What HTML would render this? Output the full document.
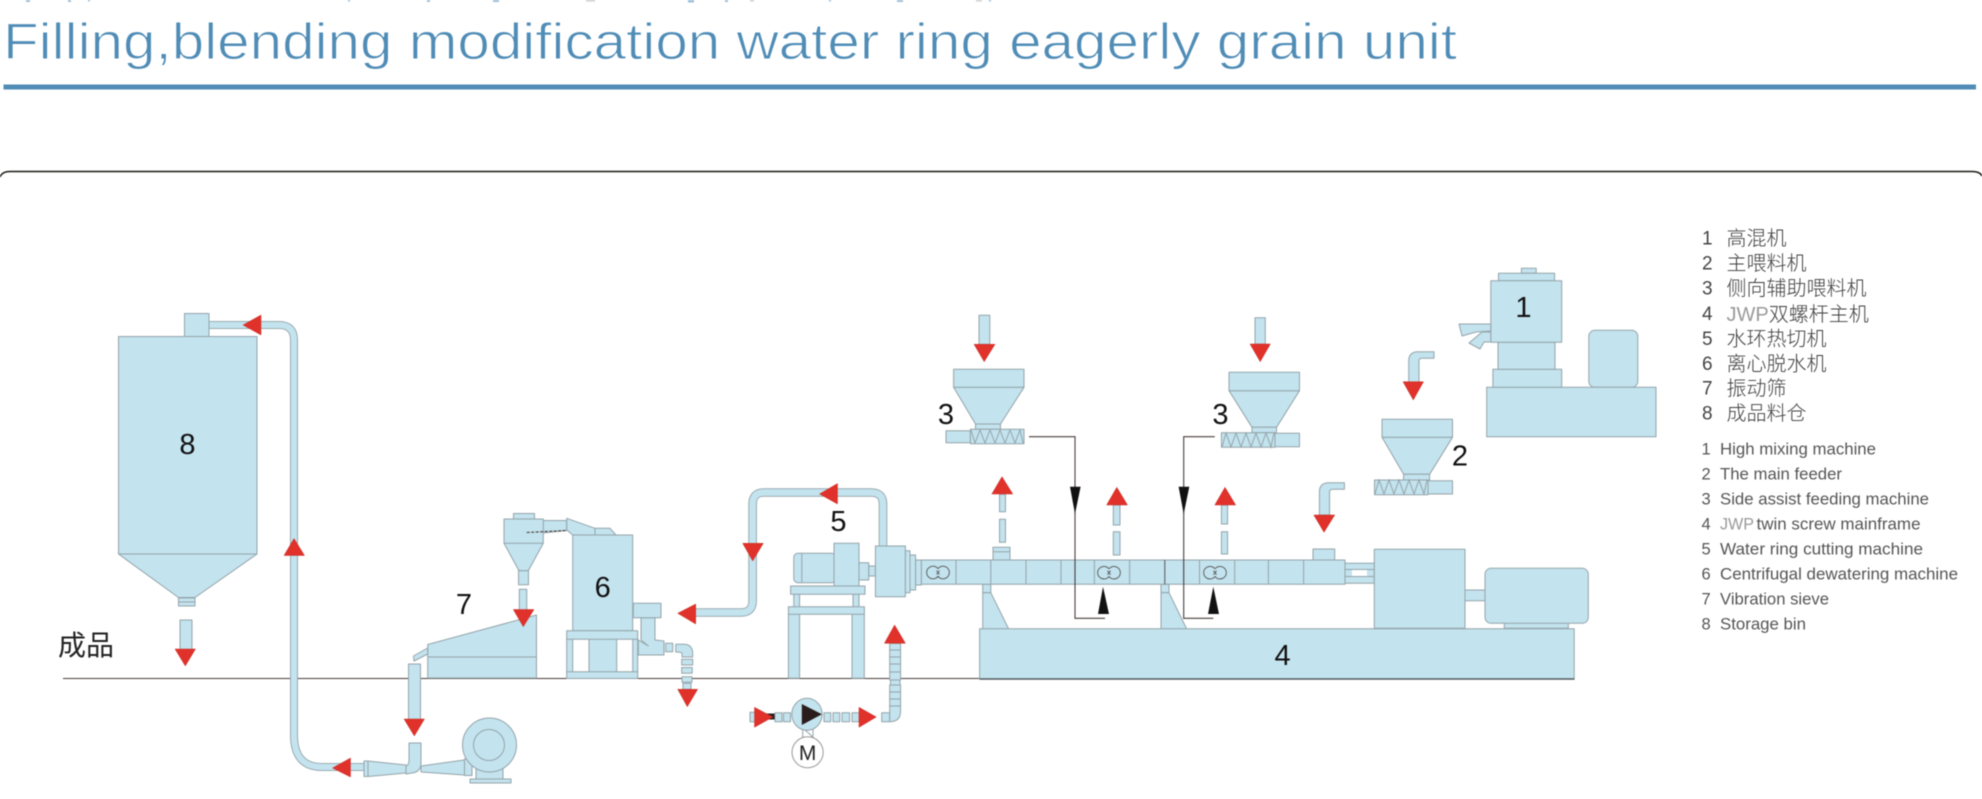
<!DOCTYPE html>
<html><head><meta charset="utf-8"><style>
html,body{margin:0;padding:0;background:#fff}
svg{display:block;filter:blur(.45px)}
.m{fill:#c3e3ee;stroke:#94a4aa;stroke-width:1;stroke-linejoin:round}
.l{fill:none;stroke:#94a4aa;stroke-width:1}
.r{fill:#e0312a;stroke:#c8332c;stroke-width:.5}
.k{fill:#111;stroke:none}
.b{fill:none;stroke:#4a3d3d;stroke-width:1.1}
.d{font-family:"Liberation Sans",sans-serif;font-size:29px;fill:#111;text-anchor:middle}
.cn{font-family:"Liberation Sans","Noto Sans CJK SC",sans-serif;font-size:20px;fill:#3c3c3c;font-weight:300}
.en{font-family:"Liberation Sans",sans-serif;font-size:17px;fill:#555}
.num{font-family:"Liberation Sans",sans-serif;font-size:19px;fill:#444}
.num2{font-family:"Liberation Sans",sans-serif;font-size:16.5px;fill:#555}
.j{fill:#9a9a9a}
</style></head><body>
<svg width="1982" height="799" viewBox="0 0 1982 799" xmlns="http://www.w3.org/2000/svg">
<!-- top sliver of cropped text -->
<g fill="#5f93bd" opacity=".6">
<rect x="26" y="0" width="4" height="2"/><rect x="68" y="0" width="3" height="2"/><rect x="88" y="0" width="2" height="1.5"/>
<rect x="348" y="0" width="2" height="1.5"/><rect x="427" y="0" width="3" height="2"/><rect x="493" y="0" width="6" height="2"/>
<rect x="586" y="0" width="9" height="1.5" fill="#aaa"/><rect x="688" y="0" width="6" height="2.5"/><rect x="725" y="0" width="3" height="2"/>
<rect x="750" y="0" width="4" height="1.5" fill="#aaa"/><rect x="829" y="0" width="2" height="1.5"/><rect x="897" y="0" width="6" height="2"/>
<rect x="976" y="0" width="6" height="1.5" fill="#aaa"/><rect x="989" y="0" width="2" height="1.5"/>
</g>
<!-- title -->
<text x="3" y="59" font-family="'Liberation Sans',sans-serif" font-size="51" fill="#4f8cb6" stroke="#fff" stroke-width="1" textLength="1454" lengthAdjust="spacingAndGlyphs">Filling,blending modification water ring eagerly grain unit</text>
<rect x="3.5" y="84.5" width="1972.5" height="5" fill="#4f8cb6"/>
<path d="M0,177 Q2,171.5 10,171.5 H1972 Q1980,171.5 1982,176" fill="none" stroke="#1a1a14" stroke-width="1.6"/>

<!-- ground -->
<line x1="63" y1="678.5" x2="980" y2="678.5" stroke="#4a3d3d" stroke-width="1.1"/>
<text x="58" y="655" font-family="'Liberation Sans','Noto Sans CJK SC',sans-serif" font-size="28" fill="#222">成品</text>

<!-- transfer pipe to silo -->
<path d="M209,325 H279 Q294,325 294,340 V735 Q294,767 322,767 H364" fill="none" stroke="#94a4aa" stroke-width="8"/>
<path d="M209,325 H279 Q294,325 294,340 V735 Q294,767 322,767 H364" fill="none" stroke="#c3e3ee" stroke-width="6.2"/>

<!-- silo 8 -->
<rect class="m" x="184.5" y="313.5" width="24.5" height="23"/>
<path class="m" d="M118.5,336.5 H257 V554 L195,597.5 H178.5 L118.5,554 Z"/>
<line class="l" x1="118.5" y1="554" x2="257" y2="554"/>
<rect class="m" x="178.5" y="598" width="16.5" height="8"/>
<line class="l" x1="178.5" y1="602" x2="195" y2="602"/>
<text class="d" x="187.5" y="454">8</text>
<rect class="m" x="180" y="620" width="12" height="30"/>
<polygon class="r" points="175,649 195.5,649 185.3,666"/>
<polygon class="r" points="243,325 261,315 261,335"/>
<polygon class="r" points="294,538.5 284,555.5 304.5,555.5"/>
<polygon class="r" points="332.5,768 350.5,758 350.5,777"/>

<!-- blower -->
<path class="m" d="M364,761 L368,761 L406,765 V773 L368,776.5 L364,776.5 Z"/>
<line class="l" x1="368" y1="761" x2="368" y2="776.5"/>
<path class="m" d="M421,766 L464,760 H467 V775 H464 L421,772 Z"/>
<path class="m" d="M409,743 H421 V763 Q421,772 412,773 L406,774 V766 Q409,765 409,760 Z"/>
<rect class="m" x="464.5" y="759" width="7.5" height="16.5"/>
<path class="m" d="M476,765 H503 V779 H476 Z"/>
<rect class="m" x="470" y="779" width="41" height="4"/>
<circle class="m" cx="489.5" cy="745" r="27"/>
<circle class="m" cx="489" cy="745" r="15.5"/>

<!-- discharge into blower -->
<rect class="m" x="408.5" y="664" width="12" height="56"/>
<polygon class="r" points="404,719 424.5,719 414.3,736"/>

<!-- sieve 7 -->
<path class="m" d="M427.7,644.5 L536.5,615 V678 H427.7 Z"/>
<line class="l" x1="427.7" y1="657" x2="536.5" y2="657"/>
<polygon class="m" points="413.5,656 427.7,648 427.7,654 414,661"/>
<text class="d" x="464" y="614">7</text>

<!-- cyclone -->
<rect class="m" x="513.5" y="513.5" width="21" height="5.5"/>
<path class="m" d="M543,520.5 H566.7 V530.5 L543,533 Z"/>
<path class="m" d="M504,519 H543.3 V543.3 L528.3,570.7 H519 L504,543.3 Z"/>
<line class="l" x1="504" y1="543.3" x2="543.3" y2="543.3"/>
<path class="b" d="M526.7,532.5 L566.7,530.5" stroke-dasharray="3 1.5"/>
<rect class="m" x="518.5" y="570.7" width="10" height="14"/>
<rect class="m" x="519.3" y="589.3" width="7.4" height="21"/>
<polygon class="r" points="513.3,609.5 534,609.5 523.3,626.7"/>

<!-- dewaterer 6 -->
<polygon class="m" points="595,528.3 610,528.3 616,535 595,535"/>
<polygon class="m" points="566.7,518.3 595,528.3 595,535 572.7,535 566.7,530"/>
<rect class="m" x="572.7" y="535" width="60" height="95.7"/>
<text class="d" x="602.7" y="597">6</text>
<rect class="m" x="566.7" y="639" width="6" height="33"/>
<rect class="m" x="632.7" y="639" width="5" height="33"/>
<rect class="m" x="589" y="639" width="27.7" height="33"/>
<rect class="m" x="566.7" y="630.7" width="71" height="8.6"/>
<rect class="m" x="566.7" y="671.7" width="71" height="6.8"/>
<path class="m" d="M641,617.7 H655 V640 L664,641 V655 H638.3 V640 L648.3,646 L641,640 Z"/>
<rect class="m" x="633.3" y="603.3" width="27.7" height="14.4"/>
<rect class="m" x="665.7" y="643.3" width="7" height="8.4"/>
<path class="m" d="M675.7,644.3 H685 Q692.7,645 692.7,654 V657 H682 V653 Q681,652 675.7,652 Z"/>
<rect class="m" x="681.7" y="659.3" width="11" height="5.7"/>
<rect class="m" x="681.7" y="667.5" width="10.5" height="5.7"/>
<rect class="m" x="682" y="676.7" width="10" height="5.5"/>
<rect class="m" x="683" y="683.3" width="8" height="6"/>
<polygon class="r" points="677.7,689.3 697.7,689.3 687.3,706.7"/>

<!-- water-ring loop -->
<path d="M695,612.5 H741 Q752.6,612.5 752.6,601 V504 Q752.6,492.5 764,492.5 H871 Q883,492.5 883,504 V547" fill="none" stroke="#94a4aa" stroke-width="8.6"/>
<path d="M695,612.5 H741 Q752.6,612.5 752.6,601 V504 Q752.6,492.5 764,492.5 H871 Q883,492.5 883,504 V547" fill="none" stroke="#c3e3ee" stroke-width="6.8"/>
<polygon class="r" points="677.7,613.3 695.7,604 695.7,624"/>
<polygon class="r" points="742.7,543.3 763.3,543.3 752.7,561"/>
<polygon class="r" points="819.5,494 837.5,483.5 837.5,504"/>
<text class="d" x="838.4" y="531">5</text>

<!-- cutter stand -->
<rect class="m" x="793.8" y="594" width="5.8" height="13"/>
<rect class="m" x="853" y="594" width="6" height="13"/>
<rect class="m" x="788.4" y="614" width="11.2" height="64.3"/>
<rect class="m" x="852" y="614" width="12.3" height="64.3"/>
<rect class="m" x="788.4" y="606.7" width="76" height="7.5"/>
<rect class="m" x="790.6" y="586" width="74.4" height="8.3"/>
<!-- cutter -->
<rect class="m" x="793.8" y="553.3" width="42" height="29.4" rx="4"/>
<line class="l" x1="801.8" y1="553.3" x2="801.8" y2="582.7"/>
<rect class="m" x="834" y="543.3" width="25" height="42.7"/>
<rect class="m" x="859" y="562.7" width="9.8" height="17.3"/>
<rect class="m" x="868.8" y="566" width="6.6" height="10"/>
<rect class="m" x="875.4" y="546" width="30" height="50.7"/>
<rect class="m" x="905.4" y="550.7" width="4.6" height="42"/>
<rect class="m" x="910" y="555" width="5.6" height="35"/>
<rect class="m" x="915.6" y="560" width="5.8" height="25"/>

<!-- supports -->
<rect class="m" x="982.7" y="584.3" width="8.1" height="8.4"/>
<polygon class="m" points="982.7,592.7 990.8,592.7 1008.7,629 982.7,629"/>
<rect class="m" x="1161" y="584.3" width="8" height="8.4"/>
<polygon class="m" points="1161,592.7 1169,592.7 1186.7,629 1161,629"/>

<!-- barrel -->
<rect class="m" x="921.4" y="560" width="423.6" height="24.3"/>
<g class="l">
<line x1="956" y1="560" x2="956" y2="584.3"/><line x1="990.8" y1="560" x2="990.8" y2="584.3"/>
<line x1="1026" y1="560" x2="1026" y2="584.3"/><line x1="1061" y1="560" x2="1061" y2="584.3"/>
<line x1="1094.4" y1="560" x2="1094.4" y2="584.3"/><line x1="1129.6" y1="560" x2="1129.6" y2="584.3"/>
<line x1="1164.8" y1="560" x2="1164.8" y2="584.3" stroke="#555"/><line x1="1199.5" y1="560" x2="1199.5" y2="584.3"/>
<line x1="1234.7" y1="560" x2="1234.7" y2="584.3"/><line x1="1268.4" y1="560" x2="1268.4" y2="584.3"/>
<line x1="1303.6" y1="560" x2="1303.6" y2="584.3"/>
</g>
<g fill="none" stroke="#555" stroke-width=".9">
<path d="M938,568.7 A6.3,6.3 0 1 0 938,576.3 A6.3,6.3 0 1 0 938,568.7 M936.5,570.5 L939.5,574.5 M939.5,570.5 L936.5,574.5"/>
<path d="M1109,568.9 A6.3,6.3 0 1 0 1109,576.5 A6.3,6.3 0 1 0 1109,568.9 M1107.5,570.7 L1110.5,574.7 M1110.5,570.7 L1107.5,574.7"/>
<path d="M1215,568.9 A6.3,6.3 0 1 0 1215,576.5 A6.3,6.3 0 1 0 1215,568.9 M1213.5,570.7 L1216.5,574.7 M1216.5,570.7 L1213.5,574.7"/>
</g>
<rect class="m" x="993" y="547.3" width="17" height="12.7"/>
<line class="l" x1="993" y1="551.7" x2="1010" y2="551.7"/>
<rect class="m" x="1313" y="549" width="21.7" height="11"/>

<!-- vent arrows -->
<rect class="m" x="999.5" y="519.3" width="6" height="23"/>
<rect class="m" x="999.5" y="494.3" width="6" height="17.4"/>
<polygon class="r" points="1002,476.7 991.8,494 1012.8,494"/>
<rect class="m" x="1113.3" y="531.7" width="6.7" height="23.3"/>
<rect class="m" x="1113.3" y="505" width="6.7" height="20"/>
<polygon class="r" points="1116.8,487.3 1106.6,505 1127.5,505"/>
<rect class="m" x="1221.4" y="531.7" width="6.2" height="22.3"/>
<rect class="m" x="1221.4" y="505" width="6.2" height="19"/>
<polygon class="r" points="1225,487.3 1214.8,505 1235.7,505"/>

<!-- black lines -->
<path class="b" d="M1029,436.7 H1075 V618.3 H1105"/>
<path class="b" d="M1214.8,436.7 H1183.7 V618.3 H1213.3"/>
<polygon class="k" points="1070,486.7 1080.6,486.7 1075,514"/>
<polygon class="k" points="1178.6,486.7 1189.3,486.7 1183.7,514"/>
<polygon class="k" points="1103,586.7 1098,614 1109,614"/>
<polygon class="k" points="1213.3,586.7 1208,614 1219,614"/>

<!-- base 4 -->
<rect class="m" x="979.6" y="628.8" width="594.6" height="50.2"/>
<line x1="979.6" y1="679" x2="1574.5" y2="679" stroke="#4f5a60" stroke-width="1.5"/>
<text class="d" x="1282.6" y="665">4</text>

<!-- gearbox & motor -->
<rect class="m" x="1345" y="563.3" width="29.3" height="20"/>
<line class="l" x1="1345" y1="569.5" x2="1374.3" y2="569.5"/>
<line class="l" x1="1345" y1="576.5" x2="1374.3" y2="576.5"/>
<rect x="1352" y="570" width="15" height="6" fill="#fff"/>
<rect class="m" x="1374.3" y="549.3" width="90.7" height="79"/>
<rect class="m" x="1465" y="590" width="20" height="10.7"/>
<rect class="m" x="1504.3" y="623" width="64" height="5.3"/>
<rect class="m" x="1485" y="568.3" width="103.3" height="55" rx="6"/>

<!-- left feeder 3 -->
<rect class="m" x="979" y="315.3" width="10.8" height="29"/>
<polygon class="r" points="974,344.3 995,344.3 984.2,361.7"/>
<polygon class="m" points="953.6,387.3 1024,387.3 1000.5,424 975.5,424"/>
<rect class="m" x="953.6" y="369.3" width="70.4" height="18"/>
<rect class="m" x="975.5" y="424" width="25" height="5.3"/>
<rect class="m" x="946" y="430.7" width="24.4" height="12"/>
<rect class="m" x="970.4" y="429.3" width="53.6" height="14.4"/>
<path class="l" d="M971,430 L975,443 L980,430 L985,443 L990,430 L995,443 L1000,430 L1005,443 L1010,430 L1015,443 L1020,430 L1023,443" stroke="#666"/>
<text class="d" x="946" y="424">3</text>

<!-- right feeder 3 -->
<rect class="m" x="1255" y="317.7" width="10.3" height="26.3"/>
<polygon class="r" points="1250,344 1270.4,344 1260.2,361.7"/>
<polygon class="m" points="1229,390.7 1299.5,390.7 1276.5,427.3 1252,427.3"/>
<rect class="m" x="1229" y="372.3" width="70.5" height="18.4"/>
<rect class="m" x="1252" y="427.3" width="24.5" height="5.4"/>
<rect class="m" x="1275" y="433.3" width="24.5" height="13.4"/>
<rect class="m" x="1221.4" y="432.7" width="53.6" height="14.6"/>
<path class="l" d="M1222,447 L1226,433 L1231,447 L1236,433 L1241,447 L1246,433 L1251,447 L1256,433 L1261,447 L1266,433 L1271,447 L1274,433" stroke="#666"/>
<text class="d" x="1220.4" y="424">3</text>

<!-- main feeder 2 -->
<path class="m" d="M1434,351.7 H1418 Q1408.7,351.7 1408.7,361 V382 H1419 V361 Q1419,358.3 1422,358.3 H1434 Z"/>
<polygon class="r" points="1403,381.7 1423.5,381.7 1413.3,400"/>
<polygon class="m" points="1382,437.3 1452.5,437.3 1429.6,474.3 1403.6,474.3"/>
<rect class="m" x="1382" y="419.3" width="70.5" height="18"/>
<rect class="m" x="1403.6" y="474.3" width="26" height="5.7"/>
<rect class="m" x="1428" y="480.7" width="24.5" height="13.3"/>
<rect class="m" x="1374.5" y="480" width="53.5" height="14.7"/>
<path class="l" d="M1375,494 L1379,480 L1384,494 L1389,480 L1394,494 L1399,480 L1404,494 L1409,480 L1414,494 L1419,480 L1424,494 L1427,480" stroke="#666"/>
<text class="d" x="1460" y="465.5">2</text>

<!-- elbow to barrel -->
<path class="m" d="M1344.4,482.7 H1329 Q1319.4,482.7 1319.4,492 V515 H1329.6 V492 Q1329.6,489.3 1333,489.3 H1344.4 Z"/>
<polygon class="r" points="1313.8,515 1334.7,515 1324,532.3"/>

<!-- mixer 1 -->
<rect class="m" x="1588.8" y="330.3" width="49" height="57" rx="6"/>
<rect class="m" x="1486.7" y="387.3" width="169.3" height="49.4"/>
<rect class="m" x="1492.9" y="369.3" width="68.8" height="18"/>
<rect class="m" x="1498" y="342.3" width="57" height="27"/>
<rect class="m" x="1521.4" y="268.3" width="14.8" height="5"/>
<rect class="m" x="1498.5" y="273.3" width="56.1" height="7.4"/>
<rect class="m" x="1490.8" y="280.7" width="70.9" height="61.6"/>
<polygon class="m" points="1459,324 1490.8,324 1490.8,331 1476,332 1462,336"/>
<polygon class="m" points="1469,343 1482,332 1490.8,332 1490.8,342 1484,342 1480,349"/>
<text class="d" x="1523.5" y="317">1</text>

<!-- pump -->
<rect class="m" x="750" y="712.3" width="6" height="9.4"/>
<rect x="767" y="713.5" width="8" height="6" fill="#2a1c1c"/>
<polygon class="r" points="754.5,707.3 754.5,727.3 772.8,717"/>
<rect class="m" x="775" y="712.7" width="7" height="9"/>
<rect class="m" x="783.5" y="712.7" width="7" height="9"/>
<rect class="m" x="824" y="712.7" width="6.8" height="9"/>
<rect class="m" x="833" y="712.7" width="6.8" height="9"/>
<rect class="m" x="842" y="712.7" width="7.6" height="9"/>
<rect class="m" x="852" y="712.7" width="7" height="9"/>
<polygon class="r" points="859,707.3 859,727.3 876.3,717"/>
<rect class="m" x="881.7" y="712.7" width="8" height="9"/>
<path class="m" d="M889.7,712.7 H889.7 V706 H900.6 V711 Q900.6,721.7 890,721.7 H889.7 Z"/>
<g class="m">
<rect x="889.7" y="699" width="10.9" height="7"/><rect x="889.7" y="692" width="10.9" height="7"/>
<rect x="889.7" y="685" width="10.9" height="7"/><rect x="890.5" y="680" width="9.5" height="5"/>
<rect x="889.7" y="672" width="10.9" height="8"/><rect x="889.7" y="664" width="10.9" height="8"/>
<rect x="889.7" y="657" width="10.9" height="7"/><rect x="889.7" y="650" width="10.9" height="7"/>
<rect x="889.7" y="643.5" width="10.9" height="6.5"/>
</g>
<polygon class="r" points="894.6,625 884.4,643.3 905.4,643.3"/>
<path d="M802.7,728 H813 V737 H802.7 Z M802.7,728 L813,737" fill="none" stroke="#94a4aa"/>
<ellipse class="m" cx="807" cy="714.3" rx="15.2" ry="16"/>
<polygon points="801.8,704 801.8,725 821.9,714.3" fill="#2a1c1c"/>
<ellipse cx="807.6" cy="752.3" rx="15.6" ry="15.5" fill="#fff" stroke="#999" stroke-width="1"/>
<text x="807.6" y="760" text-anchor="middle" font-family="'Liberation Sans',sans-serif" font-size="21" fill="#222">M</text>

<!-- legend -->
<g class="num">
<text x="1702" y="244.5">1</text><text x="1702" y="269.5">2</text><text x="1702" y="294.5">3</text><text x="1702" y="320">4</text>
<text x="1702" y="345">5</text><text x="1702" y="370">6</text><text x="1702" y="394.5">7</text><text x="1702" y="419.5">8</text>
</g>
<g class="cn">
<text x="1726.5" y="245">高混机</text>
<text x="1726.5" y="270">主喂料机</text>
<text x="1726.5" y="295">侧向辅助喂料机</text>
<text x="1726.5" y="321"><tspan class="j">JWP</tspan>双螺杆主机</text>
<text x="1726.5" y="345.5">水环热切机</text>
<text x="1726.5" y="370.5">离心脱水机</text>
<text x="1726.5" y="395">振动筛</text>
<text x="1726.5" y="420">成品料仓</text>
</g>
<g class="num2">
<text x="1701.5" y="454.5">1</text><text x="1701.5" y="479.5">2</text><text x="1701.5" y="504.5">3</text><text x="1701.5" y="529.5">4</text>
<text x="1701.5" y="554.5">5</text><text x="1701.5" y="579.5">6</text><text x="1701.5" y="604.5">7</text><text x="1701.5" y="629.5">8</text>
</g>
<g class="en">
<text x="1720" y="454.5" textLength="156" lengthAdjust="spacingAndGlyphs">High mixing machine</text>
<text x="1720" y="479.5" textLength="122" lengthAdjust="spacingAndGlyphs">The main feeder</text>
<text x="1720" y="504.5" textLength="209" lengthAdjust="spacingAndGlyphs">Side assist feeding machine</text>
<text x="1720" y="529.5" textLength="34" lengthAdjust="spacingAndGlyphs" class="j">JWP</text>
<text x="1756.5" y="529.5" textLength="164" lengthAdjust="spacingAndGlyphs">twin screw mainframe</text>
<text x="1720" y="554.5" textLength="203" lengthAdjust="spacingAndGlyphs">Water ring cutting machine</text>
<text x="1720" y="579.5" textLength="238" lengthAdjust="spacingAndGlyphs">Centrifugal dewatering machine</text>
<text x="1720" y="604.5" textLength="109" lengthAdjust="spacingAndGlyphs">Vibration sieve</text>
<text x="1720" y="629.5" textLength="86" lengthAdjust="spacingAndGlyphs">Storage bin</text>
</g>
</svg>
</body></html>
